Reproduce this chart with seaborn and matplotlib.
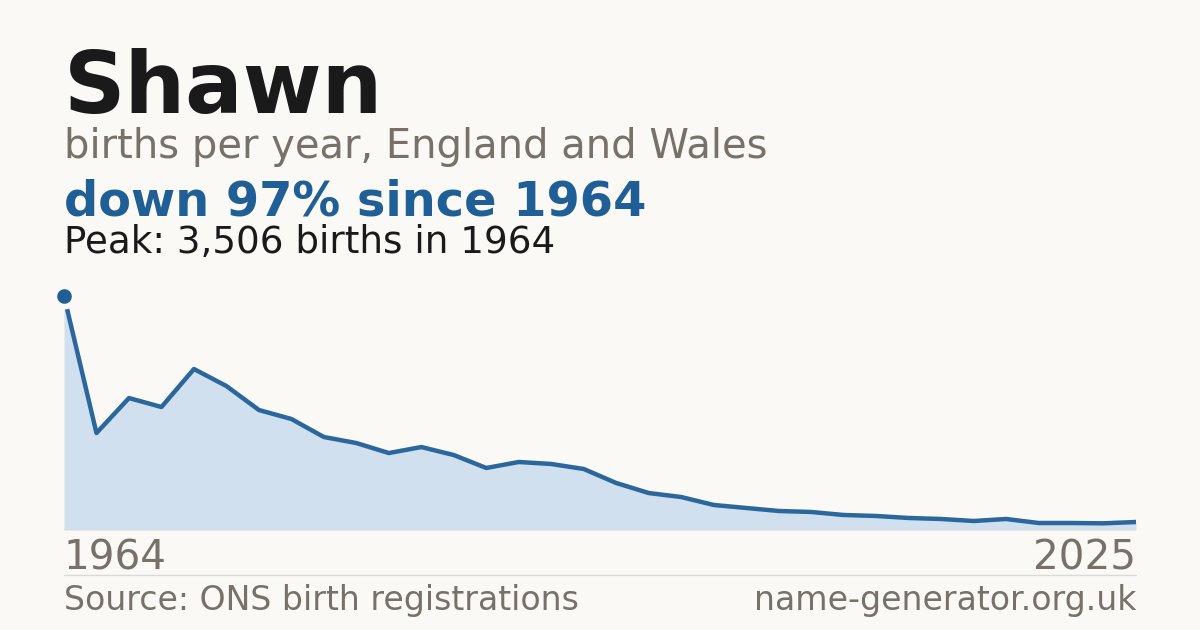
import matplotlib
matplotlib.use("Agg")
import matplotlib.pyplot as plt
import numpy as np
import pandas as pd
import seaborn as sns

# ONS series: decennial to 1994, annual from 1996
years = [1964, 1974, 1984, 1994] + list(range(1996, 2026))
births = [3506, 1453, 1977, 1843, 2412, 2157, 1798, 1663, 1393, 1303,
          1153, 1243, 1123, 929, 1019, 989, 914, 704, 554, 494,
          375, 330, 285, 270, 225, 210, 180, 165, 135, 165,
          105, 105, 100, 120]

name = "Shawn"
subtitle = "births per year, England and Wales"
headline = "down 97% since 1964"
peak_note = "Peak: 3,506 births in 1964"
source = "Source: ONS birth registrations"
site = "name-generator.org.uk"

BG = "#faf9f5"
INK = "#1a1a1a"
GREY = "#777169"
BLUE = "#1f5f96"
FILL = "#d0e0ef"
RULE = "#dcdad5"

sns.set_theme(style="white")
plt.rcParams["font.family"] = ["DejaVu Sans"]

df = pd.DataFrame({"pos": np.arange(len(years)), "year": years, "births": births})

fig = plt.figure(figsize=(12, 6.3), dpi=100, facecolor=BG)
ax = fig.add_axes([64 / 1200, 1 - 530 / 630, 1072 / 1200, 234 / 630])
ax.set_facecolor(BG)

ax.fill_between(df["pos"], df["births"], 0, color=FILL, lw=0, zorder=1)
sns.lineplot(data=df, x="pos", y="births", color="#2b679c", lw=3.2,
             ax=ax, zorder=2)
ipk = int(np.argmax(births))
ax.plot(df["pos"][ipk], births[ipk], "o", ms=14.6, mfc=BLUE, mec=BG, mew=4.1,
        clip_on=False, zorder=3)

ax.set_xlim(0, len(years) - 1)
ax.set_ylim(0, max(births))
ax.set_xticks([])
ax.set_yticks([])
ax.set_xlabel("")
ax.set_ylabel("")
for s in ax.spines.values():
    s.set_visible(False)
ax.axhline(0, color=RULE, lw=1.2, zorder=4)

L = 64 / 1200
R = 1136 / 1200
fig.text(L, 1 - 113 / 630, name, fontsize=61.5, fontweight="bold",
         color=INK, va="baseline")
fig.text(L, 1 - 158 / 630, subtitle, fontsize=28.8, color=GREY,
         va="baseline")
fig.text(L, 1 - 215 / 630, headline, fontsize=34.5, fontweight="bold",
         color=BLUE, va="baseline")
fig.text(L, 1 - 253 / 630, peak_note, fontsize=26.8, color=INK,
         va="baseline")

fig.text(L, 1 - 570 / 630, str(years[0]), fontsize=29.2, color=GREY,
         va="baseline")
fig.text(R, 1 - 570 / 630, str(years[-1]), fontsize=29.2, color=GREY,
         va="baseline", ha="right")
fig.add_artist(plt.Line2D([L, R], [1 - 574.5 / 630] * 2, color=RULE, lw=1))
fig.text(L, 1 - 610 / 630, source, fontsize=23.9, color=GREY,
         va="baseline")
fig.text(R, 1 - 610 / 630, site, fontsize=23.9, color=GREY,
         va="baseline", ha="right")

fig.savefig("out.png", dpi=100, facecolor=BG)
